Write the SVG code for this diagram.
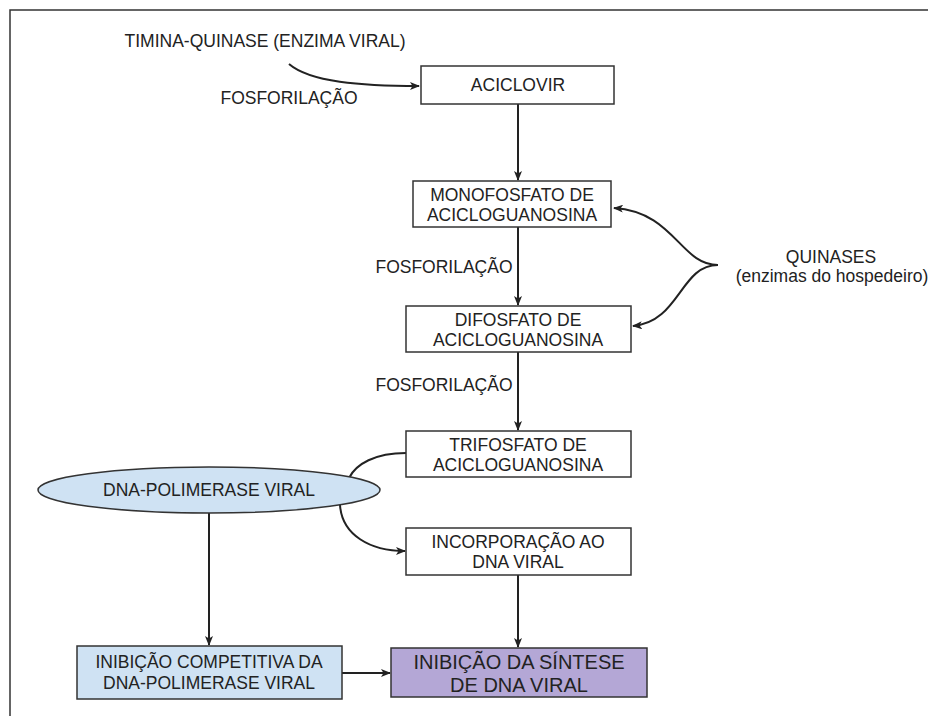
<svg xmlns="http://www.w3.org/2000/svg" width="928" height="716" viewBox="0 0 928 716">
<defs>
<style>
text{font-family:"Liberation Sans",Arial,sans-serif;fill:#222;text-anchor:middle;dominant-baseline:central}
.t{font-size:17.5px}
.big{font-size:20px}
.box{fill:#fff;stroke:#333;stroke-width:1.5}
.blue{fill:#cfe2f3}
.purple{fill:#b4a7d6}
.edge{fill:none;stroke:#222;stroke-width:2}
</style>
<marker id="ah" viewBox="0 0 10 8" refX="9" refY="4" markerWidth="10" markerHeight="8" markerUnits="userSpaceOnUse" orient="auto">
<path d="M0,0 L10,4 L0,8 L2.5,4 z" fill="#222"/>
</marker>
</defs>
<rect x="0" y="0" width="928" height="716" fill="#fff"/>
<rect x="10" y="10" width="940" height="730" fill="none" stroke="#333" stroke-width="1.5"/>

<g id="labels">
<text class="t" x="265" y="41">TIMINA-QUINASE (ENZIMA VIRAL)</text>
<text class="t" x="289" y="98">FOSFORILAÇÃO</text>
<text class="t" x="444" y="267">FOSFORILAÇÃO</text>
<text class="t" x="444" y="385">FOSFORILAÇÃO</text>
<text class="t" x="831" y="257">QUINASES</text>
<text class="t" x="832" y="276">(enzimas do hospedeiro)</text>
</g>

<g id="connectors">
<path class="edge" d="M289,64 C310,82 360,86 419,86" marker-end="url(#ah)"/>
<path class="edge" d="M518,104 L518,180" marker-end="url(#ah)"/>
<path class="edge" d="M518,227 L518,305" marker-end="url(#ah)"/>
<path class="edge" d="M518,352 L518,430" marker-end="url(#ah)"/>
<path class="edge" d="M518,575 L518,647" marker-end="url(#ah)"/>
<path class="edge" d="M209,513 L209,645" marker-end="url(#ah)"/>
<path class="edge" d="M342,673 L390,673" marker-end="url(#ah)"/>
<path class="edge" d="M718,265 C680,265 675,212 614,208" marker-end="url(#ah)"/>
<path class="edge" d="M718,265 C680,265 680,322 633,326" marker-end="url(#ah)"/>
<path class="edge" d="M406,453 C375,453 356,464 349,478"/>
<path class="edge" d="M340,505 C342,535 370,551 405,551" marker-end="url(#ah)"/>
</g>

<g id="aciclovir">
<rect class="box" x="421" y="66" width="193" height="38"/>
<text class="t" x="518" y="85">ACICLOVIR</text>
</g>
<g id="monofosfato">
<rect class="box" x="413" y="181" width="198" height="46"/>
<text class="t" x="512" y="195">MONOFOSFATO DE</text>
<text class="t" x="512" y="215">ACICLOGUANOSINA</text>
</g>
<g id="difosfato">
<rect class="box" x="406" y="306" width="225" height="46"/>
<text class="t" x="518" y="320">DIFOSFATO DE</text>
<text class="t" x="518" y="340">ACICLOGUANOSINA</text>
</g>
<g id="trifosfato">
<rect class="box" x="406" y="431" width="225" height="46"/>
<text class="t" x="518" y="445">TRIFOSFATO DE</text>
<text class="t" x="518" y="465">ACICLOGUANOSINA</text>
</g>
<g id="incorporacao">
<rect class="box" x="406" y="528" width="225" height="47"/>
<text class="t" x="518" y="542">INCORPORAÇÃO AO</text>
<text class="t" x="518" y="562">DNA VIRAL</text>
</g>
<g id="dna-polimerase">
<ellipse cx="209" cy="490" rx="171" ry="23" fill="#cfe2f3" stroke="#333" stroke-width="1.5"/>
<text class="t" x="209" y="490">DNA-POLIMERASE VIRAL</text>
</g>
<g id="inibicao-competitiva">
<rect class="box blue" x="77" y="646" width="265" height="53"/>
<text class="t" x="209" y="662">INIBIÇÃO COMPETITIVA DA</text>
<text class="t" x="209" y="683">DNA-POLIMERASE VIRAL</text>
</g>
<g id="inibicao-sintese">
<rect class="box purple" x="391" y="648" width="256" height="49"/>
<text class="big" x="519" y="662">INIBIÇÃO DA SÍNTESE</text>
<text class="big" x="519" y="685">DE DNA VIRAL</text>
</g>
</svg>
